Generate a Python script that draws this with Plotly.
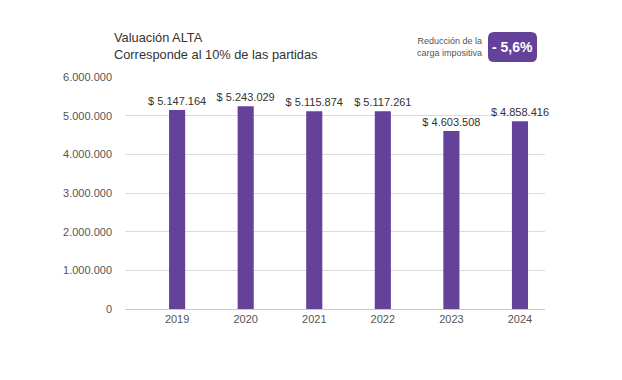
import plotly.graph_objects as go

years = ["2019", "2020", "2021", "2022", "2023", "2024"]
valuacion = [5147164, 5243029, 5115874, 5117261, 4603508, 4858416]
title_lines = ["Valuación ALTA", "Corresponde al 10% de las partidas"]
badge_label = ["Reducción de la", "carga impositiva"]
badge_value = "- 5,6%"
ytick_vals = [0, 1000000, 2000000, 3000000, 4000000, 5000000, 6000000]

PURPLE = "#65429a"
FONT = "Liberation Sans, Arial, sans-serif"

def fmt(v):
    return "$ " + f"{v:,}".replace(",", ".")

OFF = 8  # default page body margin
L, T = 125, 77          # plot area top-left in page pixels
pw, ph = 420, 232       # plot area size
BOTTOM = T + ph

def px(x):
    return (x - L) / pw

def py(y):
    return (BOTTOM - y) / ph

FW, FH = 606, 364
ml, mt = L - OFF, T - OFF
mr, mb = FW - ml - pw, FH - mt - ph

fig = go.Figure()
fig.add_trace(go.Bar(
    x=years, y=valuacion,
    marker=dict(color=PURPLE, line=dict(width=0)),
    width=0.235,
    text=[fmt(v) for v in valuacion],
    textposition="outside",
    constraintext="none",
    textfont=dict(family=FONT, size=11, color="#333333"),
    cliponaxis=False,
))

# rounded badge
x0, x1, y0, y1, r = px(488), px(537), py(62), py(32), 6
rx, ry = r / pw, r / ph
path = (f"M {x0+rx},{y0} L {x1-rx},{y0} Q {x1},{y0} {x1},{y0+ry} "
        f"L {x1},{y1-ry} Q {x1},{y1} {x1-rx},{y1} L {x0+rx},{y1} "
        f"Q {x0},{y1} {x0},{y1-ry} L {x0},{y0+ry} Q {x0},{y0} {x0+rx},{y0} Z")
fig.add_shape(type="path", path=path, xref="paper", yref="paper",
              fillcolor=PURPLE, line=dict(width=0))

fig.add_annotation(x=px(512.5), y=py(47), xref="paper", yref="paper",
                   text="<b>" + badge_value + "</b>", showarrow=False,
                   font=dict(family=FONT, size=14, color="white"),
                   xanchor="center", yanchor="middle")
fig.add_annotation(x=px(484), y=py(47), xref="paper", yref="paper",
                   text="<br>".join(badge_label), showarrow=False,
                   font=dict(family=FONT, size=9, color="#555555"),
                   xanchor="right", yanchor="middle", align="right")
fig.add_annotation(x=px(112), y=py(46), xref="paper", yref="paper",
                   text="<br>".join(title_lines), showarrow=False,
                   font=dict(family=FONT, size=12.8, color="#333333"),
                   xanchor="left", yanchor="middle", align="left")

fig.update_layout(
    width=FW, height=FH,
    margin=dict(l=ml, r=mr, t=mt, b=mb),
    paper_bgcolor="white", plot_bgcolor="white",
    separators=",.",
    showlegend=False,
    font=dict(family=FONT, color="#555555"),
    xaxis=dict(type="category", range=[-0.76, 5.365], showgrid=False,
               showline=True, linecolor="#c8c8c8", linewidth=1,
               ticks="", tickfont=dict(size=11, color="#555555")),
    yaxis=dict(range=[0, 6000000], tickvals=ytick_vals, tickformat=",d",
               showgrid=True, gridcolor="#dcdcdc", gridwidth=1,
               zeroline=False, showline=False, ticks="",
               ticklabelstandoff=12,
               tickfont=dict(size=11, color="#555555")),
)

fig.write_html("out.html")
